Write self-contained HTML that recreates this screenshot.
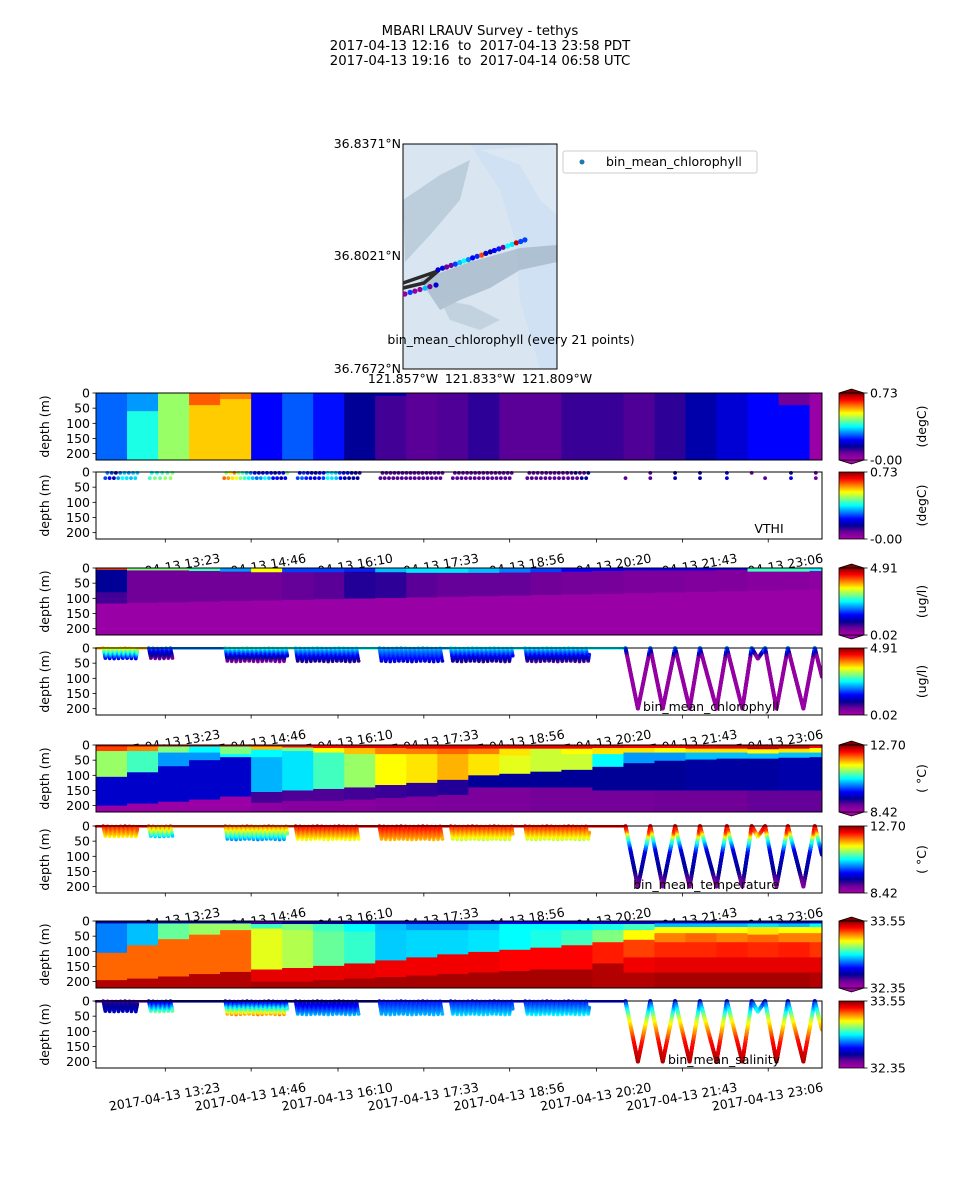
<!DOCTYPE html>
<html><head><meta charset="utf-8"><title>MBARI LRAUV Survey - tethys</title>
<style>
html,body{margin:0;padding:0;background:#fff;width:960px;height:1200px;overflow:hidden}
svg{display:block;font-family:"DejaVu Sans","Liberation Sans",sans-serif}
</style></head>
<body>
<svg id="fig" xmlns="http://www.w3.org/2000/svg" width="960" height="1200" viewBox="0 0 960 1200">
<rect width="960" height="1200" fill="#fff"/>
<g font-size="13.3" text-anchor="middle" fill="#000">
<text x="480" y="35" xml:space="preserve">MBARI LRAUV Survey - tethys</text>
<text x="480" y="50" xml:space="preserve">2017-04-13 12:16  to  2017-04-13 23:58 PDT</text>
<text x="480" y="65" xml:space="preserve">2017-04-13 19:16  to  2017-04-14 06:58 UTC</text>
</g>
<g id="map">
<rect x="403" y="144" width="154" height="225" fill="#cfe1f2"/>
<polygon points="403,144 470,144 500,190 515,240 520,300 540,369 403,369" fill="#d9e6f1"/>
<polygon points="403,200 440,175 470,160 460,200 430,235 405,262" fill="#a9bccd" opacity="0.6"/>
<polygon points="420,280 470,262 520,248 557,245 557,262 520,270 490,288 460,300 440,310" fill="#9fb3c6" opacity="0.7"/>
<polygon points="440,300 470,305 500,320 480,330 450,320" fill="#b3c4d3" opacity="0.6"/>
<polygon points="480,150 520,165 540,200 557,215 557,144" fill="#dde8f3" opacity="0.8"/>
<rect x="403" y="144" width="154" height="225" fill="none" stroke="#000" stroke-width="1"/>
</g>
<g id="mapticks" font-size="12.5" fill="#000">
<text x="401" y="148" text-anchor="end">36.8371°N</text>
<text x="401" y="260" text-anchor="end">36.8021°N</text>
<text x="401" y="373" text-anchor="end">36.7672°N</text>
<text x="403" y="383" text-anchor="middle">121.857°W</text>
<text x="480" y="383" text-anchor="middle">121.833°W</text>
<text x="557" y="383" text-anchor="middle">121.809°W</text>
<text x="511" y="344" text-anchor="middle">bin_mean_chlorophyll (every 21 points)</text>
</g>
<g>
<rect x="563" y="151" width="194" height="22" rx="2" fill="#fff" stroke="#ccc"/>
<circle cx="582" cy="162" r="2.5" fill="#1f77b4"/>
<text x="606" y="166" font-size="12.5">bin_mean_chlorophyll</text>
</g>
<g id="plots"></g>
</svg>
<script>
// ---------- data ----------
const startTime = '12:16', endTime = '23:58';
const tickLabels = ['13:23','14:46','16:10','17:33','18:56','20:20','21:43','23:06'];
const depthTicks = [0,50,100,150,200];
const depthMax = 221;

// map track (lon, lat, chlorophyll level)
const mapLon = [-121.8564,-121.8548,-121.8533,-121.8517,-121.8501,-121.8486,-121.8467,
 -121.8461,-121.8447,-121.8434,-121.8420,-121.8407,-121.8393,-121.8380,-121.8366,-121.8353,-121.8339,-121.8325,-121.8312,-121.8298,-121.8285,-121.8271,-121.8258,-121.8244,-121.8230,-121.8217,-121.8203,-121.8190];
const mapLat = [36.7905,36.7910,36.7914,36.7919,36.7923,36.7928,36.7933,
 36.7980,36.7985,36.7989,36.7994,36.7998,36.8003,36.8008,36.8012,36.8017,36.8022,36.8026,36.8031,36.8036,36.8040,36.8045,36.8050,36.8054,36.8059,36.8064,36.8068,36.8073];
const mapChl = [0.05,0.35,0.05,0.05,0.45,0.1,0.25,
 0.25,0.28,0.1,0.1,0.35,0.45,0.5,0.4,0.3,0.33,0.85,0.25,0.22,0.30,0.32,0.10,0.50,0.48,0.95,0.35,0.35];

// contour panels: column start times and per column [bottomDepth, level] layers
const colTimes = ['12:16','12:46','13:16','13:46','14:16','14:46','15:16','15:46','16:16','16:46','17:16','17:46','18:16','18:46','19:16','19:46','20:16','20:46','21:16','21:46','22:16','22:46','23:16','23:46'];
const vthiCols = [
 [[221,.38]],[[60,.42],[221,.52]],[[221,.62]],[[40,.83],[221,.74]],[[20,.8],[221,.74]],[[221,.3]],
 [[221,.37]],[[221,.31]],[[221,.2]],[[10,.22],[221,.14]],[[221,.12]],[[221,.13]],
 [[221,.16]],[[221,.12]],[[221,.12]],[[221,.15]],[[221,.15]],[[221,.13]],
 [[221,.16]],[[221,.22]],[[221,.26]],[[221,.3]],[[40,.1],[221,.3]],[[221,.03]]];
const chlCols = [
 [[6,.85],[80,.2],[117,.14],[221,.03]],[[8,.6],[115,.1],[221,.03]],[[8,.6],[113,.1],[221,.03]],[[10,.55],[111,.1],[221,.03]],
 [[12,.42],[109,.1],[221,.03]],[[14,.7],[107,.1],[221,.03]],[[14,.35],[105,.11],[221,.03]],[[14,.35],[103,.12],[221,.03]],
 [[12,.33],[101,.17],[221,.03]],[[14,.45],[99,.16],[221,.03]],[[16,.48],[97,.12],[221,.03]],[[16,.48],[95,.11],[221,.03]],
 [[16,.45],[93,.11],[221,.03]],[[15,.4],[91,.11],[221,.03]],[[14,.35],[89,.1],[221,.03]],[[12,.3],[87,.09],[221,.03]],
 [[10,.3],[85,.09],[221,.03]],[[8,.3],[83,.08],[221,.03]],[[8,.3],[81,.08],[221,.03]],[[8,.3],[79,.07],[221,.03]],
 [[6,.28],[77,.07],[221,.03]],[[12,.55],[75,.06],[221,.03]],[[12,.55],[73,.06],[221,.03]],[[10,.5],[71,.05],[221,.03]]];
const tempCols = [
 [[5,.95],[20,.85],[105,.62],[200,.25],[221,.03]],[[5,.95],[20,.8],[90,.55],[193,.25],[221,.03]],
 [[5,.95],[25,.6],[70,.42],[187,.25],[221,.03]],[[5,.95],[25,.5],[50,.42],[180,.25],[221,.03]],
 [[5,.95],[30,.6],[40,.5],[170,.25],[221,.03]],[[5,.95],[15,.75],[40,.5],[155,.44],[190,.14],[221,.05]],
 [[8,.9],[20,.6],[150,.48],[185,.13],[221,.06]],[[10,.9],[25,.7],[145,.55],[185,.13],[221,.06]],
 [[10,.92],[30,.75],[140,.62],[180,.14],[221,.06]],[[10,.92],[30,.8],[132,.7],[175,.15],[221,.07]],
 [[12,.92],[30,.8],[125,.72],[170,.16],[221,.07]],[[12,.92],[30,.82],[115,.76],[165,.17],[221,.08]],
 [[12,.92],[30,.8],[100,.72],[140,.2],[221,.08]],[[12,.92],[35,.72],[95,.68],[140,.2],[221,.08]],
 [[12,.92],[35,.66],[88,.66],[140,.2],[221,.09]],[[12,.92],[30,.7],[82,.66],[140,.2],[221,.09]],
 [[10,.92],[30,.72],[72,.5],[150,.2],[221,.09]],[[10,.9],[25,.72],[60,.42],[150,.2],[221,.09]],
 [[10,.9],[25,.7],[52,.42],[150,.2],[221,.1]],[[12,.92],[25,.72],[48,.45],[150,.21],[221,.1]],
 [[12,.93],[25,.72],[45,.45],[150,.21],[221,.1]],[[14,.95],[28,.7],[45,.45],[150,.21],[221,.11]],
 [[12,.95],[25,.72],[42,.45],[150,.22],[221,.11]],[[10,.9],[25,.7],[40,.45],[150,.22],[221,.11]]];
const salCols = [
 [[8,.2],[105,.4],[195,.82],[221,.96]],[[8,.2],[80,.45],[190,.82],[221,.96]],
 [[8,.2],[60,.58],[183,.82],[221,.96]],[[8,.2],[45,.62],[175,.82],[221,.96]],
 [[8,.2],[30,.62],[168,.82],[221,.96]],[[10,.15],[25,.55],[160,.68],[200,.92],[221,.97]],
 [[10,.2],[30,.6],[155,.64],[200,.92],[221,.97]],[[10,.2],[35,.55],[148,.58],[195,.92],[221,.97]],
 [[10,.22],[35,.5],[140,.54],[190,.92],[221,.97]],[[10,.25],[30,.45],[130,.46],[185,.91],[221,.97]],
 [[10,.25],[30,.42],[120,.47],[180,.91],[221,.97]],[[10,.25],[30,.42],[110,.47],[175,.91],[221,.97]],
 [[10,.25],[30,.45],[102,.48],[170,.91],[221,.97]],[[10,.28],[30,.5],[95,.5],[165,.9],[221,.97]],
 [[10,.28],[30,.5],[88,.52],[160,.9],[221,.97]],[[10,.25],[30,.5],[80,.55],[160,.9],[221,.97]],
 [[10,.25],[30,.52],[70,.6],[140,.88],[221,.96]],[[10,.25],[30,.55],[62,.7],[120,.85],[170,.91],[221,.96]],
 [[8,.25],[20,.45],[40,.7],[70,.8],[120,.87],[170,.92],[221,.97]],[[8,.25],[20,.45],[40,.7],[70,.82],[120,.87],[170,.92],[221,.97]],
 [[8,.22],[20,.45],[40,.7],[70,.8],[120,.88],[170,.92],[221,.97]],[[8,.22],[20,.48],[45,.72],[70,.82],[120,.87],[170,.92],[221,.97]],
 [[8,.22],[20,.45],[40,.7],[70,.8],[120,.88],[170,.92],[221,.97]],[[8,.25],[20,.5],[40,.7],[70,.8],[120,.86],[170,.92],[221,.96]]];

// VTHI scatter: groups [start, end] with levels of upper (3 m) and lower (20 m) rows
const vthiGroupTimes = [['12:27','12:56'],['13:10','13:30'],['14:22','15:21'],['15:33','16:31'],['16:53','17:51'],['18:03','18:58'],['19:15','20:12']];
const vthiUpper = [[.4,.35,.2,.4,.45,.42,.45,.45],[.5,.52,.55,.55,.6],[.62,.7,.8,.6,.55,.45,.4,.3,.25,.3,.3,.3,.22,.3,.3,.6],[.3,.35,.3,.25,.2,.3,.3,.5,.48,.45,.35,.3,.3,.22,.2,.15],[.13,.13,.12,.13,.13,.14,.12,.13,.13,.12,.13,.14,.13,.12,.13,.12],[.12,.13,.12,.12,.13,.12,.12,.13,.12,.12,.13,.12,.12,.13,.12],[.12,.13,.12,.12,.13,.12,.12,.13,.12,.14,.12,.2,.13,.12,.2]];
const vthiLower = [[.35,.3,.22,.42,.5,.48,.45,.47],[.55,.6,.58,.62,.62],[.82,.78,.72,.7,.6,.55,.5,.45,.38,.42,.5,.45,.3,.3,.22,.3],[.35,.38,.32,.3,.25,.3,.35,.5,.48,.45,.3,.22,.2,.22,.2],[.13,.12,.13,.13,.12,.13,.13,.12,.13,.12,.13,.13,.12,.13,.12],[.12,.12,.13,.12,.12,.13,.12,.12,.13,.12,.12,.13,.12,.12],[.12,.13,.12,.12,.13,.12,.12,.13,.12,.12,.13,.12,.2,.2]];
const vthiSparseTimes = ['20:48','21:12','21:36','22:00','22:26','22:50','23:03','23:28','23:52'];
const vthiSparseUpper = [null,.12,.2,.22,.25,.1,null,.2,.12];
const vthiSparseLower = [.12,.12,.22,.2,.25,null,.12,.28,.1];

// vehicle track: shallow yo-yo groups [start, end, max depth]
const yoStart = ['12:23','13:07','14:21','15:29','16:50','17:59','19:11'];
const yoEnd   = ['12:56','13:30','15:21','16:30','17:51','18:59','20:13'];
const yoMaxDepth = [35,35,45,45,45,45,45];
// deep yo-yo vertices
const zzTimes  = ['20:48','21:00','21:12','21:24','21:36','21:50','22:00','22:16','22:26','22:41','22:50','22:56','23:03','23:14','23:25','23:40','23:51','23:58'];
const zzDepths = [0,200,0,200,0,200,0,200,0,200,0,35,0,200,0,200,0,95];
// per-group colour levels [surface, bottom]
const chlGroupLv  = [[.75,.25],[.4,.08],[.55,.05],[.5,.15],[.45,.25],[.5,.15],[.5,.12]];
const tempGroupLv = [[.9,.7],[.85,.45],[.85,.4],[.92,.68],[.92,.75],[.9,.65],[.9,.65]];
const salGroupLv  = [[.15,.25],[.2,.6],[.2,.8],[.2,.45],[.3,.45],[.3,.48],[.3,.5]];
// deep profile [depth, level]
const chlProfD = [0,15,30,221], chlProfL = [.42,.25,.04,.03];
const tempProfD = [0,20,40,60,90,150,200], tempProfL = [.93,.85,.6,.45,.25,.2,.05];
const salProfD = [0,30,60,90,130,200], salProfL = [.3,.5,.66,.76,.88,.97];

// ---------- rendering ----------
const NS='http://www.w3.org/2000/svg';
const root=document.getElementById('plots');
function T(s){const p=s.split(':');return +p[0]*60+ +p[1];}
const t0=T(startTime), t1=T(endTime);
const AX0=96, AX1=822, AH=67;
function X(t){return AX0+(t-t0)*(AX1-AX0)/(t1-t0);}
function Y(d,top){return top+d*AH/depthMax;}
const stops=[[0,170,0,170],[.1,112,0,152],[.2,0,0,150],[.3,0,0,255],[.4,0,128,255],[.5,0,255,255],[.6,128,255,128],[.7,255,255,0],[.8,255,128,0],[.9,255,0,0],[1,128,0,0]];
function cmap(v){v=Math.max(0,Math.min(1,v));for(let i=1;i<stops.length;i++){if(v<=stops[i][0]){const a=stops[i-1],b=stops[i],f=(v-a[0])/(b[0]-a[0]);return 'rgb('+[1,2,3].map(k=>Math.round(a[k]+(b[k]-a[k])*f)).join(',')+')';}}return 'rgb(128,0,0)';}
function el(tag,attrs,parent){const e=document.createElementNS(NS,tag);for(const k in attrs)e.setAttribute(k,attrs[k]);(parent||root).appendChild(e);return e;}
function txt(s,attrs,parent){const e=el('text',attrs,parent);e.textContent=s;return e;}

const defs=el('defs',{});
const lg=el('linearGradient',{id:'cbg',x1:0,y1:1,x2:0,y2:0},defs);
stops.forEach(s=>el('stop',{offset:s[0],'stop-color':'rgb('+s[1]+','+s[2]+','+s[3]+')'},lg));

// map dots
(function(){
 const g=document.getElementById('map');
 const lonMin=-121.857,lonMax=-121.809,latMin=36.7672,latMax=36.8371;
 const mx=v=>403+(v-lonMin)/(lonMax-lonMin)*154;
 const my=v=>369-(v-latMin)/(latMax-latMin)*225;
 const trk=el('polyline',{points:'403,283 438,271 424,283 403,288',fill:'none',stroke:'#2a2a2a','stroke-width':3.5,'stroke-linejoin':'round'},g);
 
 
 for(let i=0;i<mapLon.length;i++){
  const c=el('circle',{cx:mx(mapLon[i]).toFixed(1),cy:my(mapLat[i]).toFixed(1),r:2.6,fill:cmap(mapChl[i])},g);
  
  
 }
})();

function axesFrame(top,g){
 el('rect',{x:AX0,y:top,width:AX1-AX0,height:AH,fill:'none',stroke:'#000','stroke-width':1},g);
 depthTicks.forEach(d=>{
  const y=Y(d,top);
  el('line',{x1:AX0-3.5,x2:AX0,y1:y,y2:y,stroke:'#000','stroke-width':0.8},g);
  const t=txt(String(d),{x:AX0-6,y:y+4.5,'font-size':12.5,'text-anchor':'end'},g);
  
  
 });
 const yl=txt('depth (m)',{x:0,y:0,'font-size':12.5,'text-anchor':'middle',transform:'translate(49,'+(top+AH/2)+') rotate(-90)'},g);
 
 
}
function xTicks(top,g){
 const b=top+AH;
 tickLabels.forEach(s=>{
  const x=X(T(s));
  el('line',{x1:x,x2:x,y1:b,y2:b+3.5,stroke:'#000','stroke-width':0.8},g);
  const t=txt('2017-04-13 '+s,{x:0,y:0,'font-size':12.5,'text-anchor':'middle',transform:'translate('+x+','+(b+33)+') rotate(-10)'},g);
  
  
 });
}
function colorbar(top,lo,hi,unit,extend,g){
 const x=839,w=25,b=top+AH;
 const cb=el('g',{},g);
 
 
 if(extend){
  el('polygon',{points:x+','+top+' '+(x+w/2)+','+(top-4)+' '+(x+w)+','+top,fill:'rgb(128,0,0)',stroke:'#000','stroke-width':0.8},cb);
  el('polygon',{points:x+','+b+' '+(x+w/2)+','+(b+4)+' '+(x+w)+','+b,fill:'rgb(170,0,170)',stroke:'#000','stroke-width':0.8},cb);
 }
 el('rect',{x:x,y:top,width:w,height:AH,fill:'url(#cbg)',stroke:'#000','stroke-width':0.8},cb);
 [[top,hi],[b,lo]].forEach(p=>{el('line',{x1:x+w,x2:x+w+3.5,y1:p[0],y2:p[0],stroke:'#000','stroke-width':0.8},cb);txt(p[1],{x:x+w+6,y:p[0]+4.5,'font-size':12.5},cb);});
 if(unit)txt(unit,{x:0,y:0,'font-size':12.5,'text-anchor':'middle',transform:'translate(926,'+(top+AH/2)+') rotate(-90)'},cb);
}
function contourPanel(top,cols,name){
 const g=el('g',{});
 
 
 el('rect',{x:AX0,y:top,width:AX1-AX0,height:AH,fill:'#fff'},g);
 cols.forEach((layers,i)=>{
  const xa=X(T(colTimes[i])), xb=i+1<colTimes.length?X(T(colTimes[i+1])):AX1;
  let d0=0;
  layers.forEach(L=>{
   const r=el('rect',{x:xa.toFixed(2),y:Y(d0,top).toFixed(2),width:(Math.min(xb,AX1)-xa+0.6).toFixed(2),height:(Y(L[0],top)-Y(d0,top)+0.4).toFixed(2),fill:cmap(L[1])},g);
   
   
   d0=L[0];
  });
 });
 el('rect',{x:AX1+0.5,y:top,width:12,height:AH,fill:'#fff'},g);
 axesFrame(top,g);
 return g;
}
function interp(D,L,d){for(let i=1;i<D.length;i++){if(d<=D[i]){const f=(d-D[i-1])/(D[i]-D[i-1]);return L[i-1]+(L[i]-L[i-1])*f;}}return L[L.length-1];}
function trackPanel(top,groupLv,profD,profL,label,labelX,name){
 const g=el('g',{});
 
 
 el('rect',{x:AX0,y:top,width:AX1-AX0,height:AH,fill:'#fff'},g);
 for(let t=t0;t<=T(zzTimes[0]);t+=0.8){
  let lv=groupLv[0][0];
  for(let k=0;k<yoStart.length;k++){if(t>=T(yoStart[k]))lv=groupLv[k][0];}
  el('circle',{cx:X(t).toFixed(1),cy:Y(1,top).toFixed(1),r:1.3,fill:cmap(lv)},g);
 }
 yoStart.forEach((s,k)=>{
  const a=T(s),b=T(yoEnd[k]),md=yoMaxDepth[k],per=4.2;
  for(let t=a;t<=b;t+=0.25){
   const ph=((t-a)%per)/per, d=md*(ph<0.5?ph*2:2-ph*2);
   const lv=groupLv[k][0]+(groupLv[k][1]-groupLv[k][0])*d/md;
   el('circle',{cx:X(t).toFixed(1),cy:Y(d,top).toFixed(1),r:1.8,fill:cmap(lv)},g);
  }
 });
 for(let i=1;i<zzTimes.length;i++){
  const ta=T(zzTimes[i-1]),tb=T(zzTimes[i]),da=zzDepths[i-1],db=zzDepths[i];
  const n=Math.ceil(Math.abs(db-da)/1.2)+4;
  for(let j=0;j<=n;j++){
   const f=j/n,t=ta+(tb-ta)*f,d=da+(db-da)*f;
   el('circle',{cx:X(t).toFixed(1),cy:Y(d,top).toFixed(1),r:1.9,fill:cmap(interp(profD,profL,d))},g);
  }
 }
 el('rect',{x:AX1+0.5,y:top,width:12,height:AH,fill:'#fff'},g);
 const lt=txt(label,{x:labelX,y:top+AH-4,'font-size':12.5,'text-anchor':'middle'},g);
 
 
 axesFrame(top,g);
 xTicks(top,g);
 return g;
}
function vthiScatter(top){
 const g=el('g',{});
 
 
 el('rect',{x:AX0,y:top,width:AX1-AX0,height:AH,fill:'#fff'},g);
 function row(a,b,lvls,d){const n=lvls.length;lvls.forEach((lv,i)=>{const t=a+(b-a)*(n>1?i/(n-1):0);const c=el('circle',{cx:X(t).toFixed(1),cy:Y(d,top).toFixed(1),r:1.9,fill:cmap(lv)},g);});}
 vthiGroupTimes.forEach((gt,k)=>{row(T(gt[0]),T(gt[1]),vthiUpper[k],3);row(T(gt[0])-2,T(gt[1])-2,vthiLower[k],20);});
 vthiSparseTimes.forEach((s,i)=>{
  if(vthiSparseUpper[i]!==null)el('circle',{cx:X(T(s)).toFixed(1),cy:Y(3,top).toFixed(1),r:1.9,fill:cmap(vthiSparseUpper[i])},g);
  if(vthiSparseLower[i]!==null)el('circle',{cx:X(T(s)).toFixed(1),cy:Y(20,top).toFixed(1),r:1.9,fill:cmap(vthiSparseLower[i])},g);
 });
 txt('VTHI',{x:769,y:top+AH-6,'font-size':12.5,'text-anchor':'middle'},g);
 axesFrame(top,g);
 xTicks(top,g);
}

const tops=[393,472,568,648,745,826,921,1001];
contourPanel(tops[0],vthiCols,'vthi-contour-panel');
colorbar(tops[0],'-0.00','0.73','(degC)',true,root);
vthiScatter(tops[1]);
colorbar(tops[1],'-0.00','0.73','(degC)',false,root);
contourPanel(tops[2],chlCols,'chlorophyll-contour-panel');
colorbar(tops[2],'0.02','4.91','(ug/l)',true,root);
trackPanel(tops[3],chlGroupLv,chlProfD,chlProfL,'bin_mean_chlorophyll',711,'chlorophyll-track-panel');
colorbar(tops[3],'0.02','4.91','(ug/l)',false,root);
contourPanel(tops[4],tempCols,'temperature-contour-panel');
colorbar(tops[4],'8.42','12.70','( °C)',true,root);
trackPanel(tops[5],tempGroupLv,tempProfD,tempProfL,'bin_mean_temperature',706,'temperature-track-panel');
colorbar(tops[5],'8.42','12.70','( °C)',false,root);
contourPanel(tops[6],salCols,'salinity-contour-panel');
colorbar(tops[6],'32.35','33.55','',true,root);
trackPanel(tops[7],salGroupLv,salProfD,salProfL,'bin_mean_salinity',724,'salinity-track-panel');
colorbar(tops[7],'32.35','33.55','',false,root);
</script>
</body></html>
